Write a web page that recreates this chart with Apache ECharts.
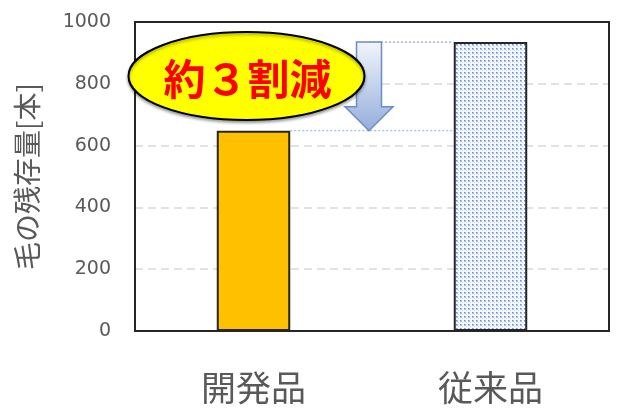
<!DOCTYPE html>
<html><head><meta charset="utf-8">
<script src="https://cdn.jsdelivr.net/npm/echarts@6/dist/echarts.min.js"></script>
<style>html,body{margin:0;padding:0;background:#fff}#c{width:619px;height:409px}</style>
</head><body><div id="c"></div>
<script>
const categories = ['開発品', '従来品'];
const values = [648, 935];
const yTicks = [0, 200, 400, 600, 800, 1000];
const axisTitle = '毛の残存量[本]';
const calloutText = '約３割減';

// dotted pattern for the conventional product bar
const pat = document.createElement('canvas');
pat.width = 4; pat.height = 4;
const pc = pat.getContext('2d');
pc.fillStyle = '#f4f7fd'; pc.fillRect(0, 0, 4, 4);
pc.fillStyle = '#a6bdeb';
pc.fillRect(0, 0, 2, 2);
pc.fillStyle = '#6d92dc';
pc.fillRect(0, 0, 1, 1);
pc.fillStyle = '#cfdcf5';
pc.fillRect(2, 2, 1, 1);

const chart = echarts.init(document.getElementById('c'), null, {renderer: 'canvas'});
const option = {
  animation: false,
  grid: {left: 135, right: 10, top: 22, bottom: 78, show: false},
  xAxis: {
    type: 'category', data: categories,
    axisLine: {show: false},
    axisTick: {show: false},
    axisLabel: {color: '#595959', fontSize: 35, margin: 39, fontFamily: 'Noto Sans CJK JP'}
  },
  yAxis: {
    type: 'value', min: 0, max: 1000, interval: 200,
    name: axisTitle, nameLocation: 'middle', nameGap: 94, nameRotate: 90,
    nameTextStyle: {color: '#595959', fontSize: 28, fontFamily: 'Noto Sans CJK JP', fontWeight: 'normal'},
    axisLine: {show: false},
    axisTick: {show: false},
    axisLabel: {color: '#595959', fontSize: 19, margin: 24, fontFamily: 'DejaVu Sans',
      formatter: v => yTicks.includes(v) ? String(v) : ''},
    splitLine: {show: true, lineStyle: {color: '#d9d9d9', type: [8, 5], width: 1.5}}
  },
  series: [{
    type: 'bar', data: [
      {value: values[0], itemStyle: {color: '#ffc000'}},
      {value: values[1], itemStyle: {color: {image: pat, repeat: 'repeat'}}}
    ],
    barWidth: '31%',
    itemStyle: {borderColor: '#262626', borderWidth: 2}
  }]
};
chart.setOption(option);

function drawAnnotations() {
  const p0 = chart.convertToPixel({xAxisIndex: 0, yAxisIndex: 0}, [0, values[0]]);
  const p1 = chart.convertToPixel({xAxisIndex: 0, yAxisIndex: 0}, [1, values[1]]);
  const yBase = chart.convertToPixel({yAxisIndex: 0}, 0);
  const yTop = chart.convertToPixel({yAxisIndex: 0}, 1000);
  const band = p1[0] - p0[0];
  const gx0 = p0[0] - band / 2, gx1 = p1[0] + band / 2;
  const halfBar = band * 0.31 / 2;
  const midX = (p0[0] + p1[0]) / 2 - 3;
  const yLow = p0[1], yHigh = p1[1];
  const ecx = p0[0] - 7, ecy = chart.convertToPixel({yAxisIndex: 0}, 825);
  const shaftHalf = 12.5, headHalf = 24, headTop = yLow - 24;
  chart.setOption({graphic: [
    {type: 'rect', shape: {x: gx0, y: yTop, width: gx1 - gx0, height: yBase - yTop},
      style: {fill: null, stroke: '#262626', lineWidth: 2}, z: 4},
    {type: 'line', shape: {x1: p0[0] + halfBar, y1: yLow, x2: p1[0] - halfBar, y2: yLow},
      style: {stroke: '#8faadc', lineWidth: 1.2, lineDash: [2, 2]}, z: 5},
    {type: 'line', shape: {x1: midX, y1: yHigh, x2: p1[0] - halfBar, y2: yHigh},
      style: {stroke: '#8faadc', lineWidth: 1.2, lineDash: [2, 2]}, z: 5},
    {type: 'polygon', shape: {points: [
      [midX - shaftHalf, yHigh], [midX + shaftHalf, yHigh], [midX + shaftHalf, headTop],
      [midX + headHalf, headTop], [midX, yLow], [midX - headHalf, headTop], [midX - shaftHalf, headTop]
    ]}, style: {fill: new echarts.graphic.LinearGradient(0, 0, 0, 1, [
      {offset: 0, color: '#f2f5fb'}, {offset: 1, color: '#94addb'}]),
      stroke: '#6b8cc6', lineWidth: 1.5}, z: 6},
    {type: 'ellipse', shape: {cx: ecx, cy: ecy, rx: 118, ry: 44},
      style: {fill: '#ffff00', stroke: '#000000', lineWidth: 2, shadowBlur: 3, shadowOffsetY: 2, shadowColor: 'rgba(0,0,0,0.35)'}, z: 7},
    {type: 'text', x: ecx + 1, y: ecy + 3, z: 8,
      style: {text: calloutText, fill: '#ff0000', font: 'bold 42px "Noto Sans CJK JP"', align: 'center', verticalAlign: 'middle'}}
  ]});
}
drawAnnotations();
</script></body></html>
